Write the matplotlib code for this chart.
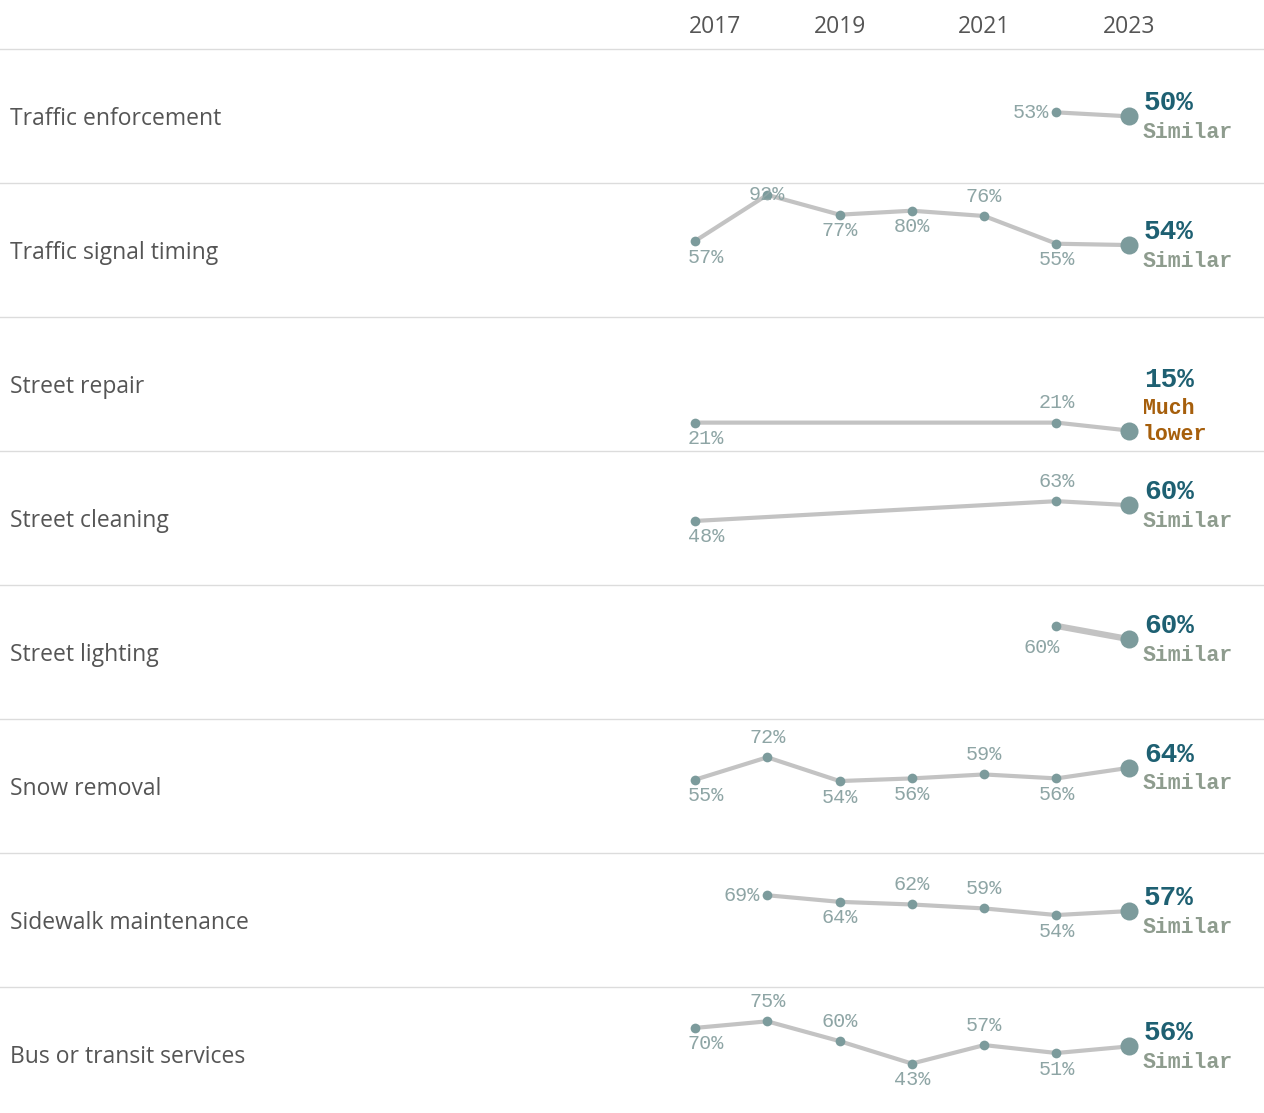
import numpy as np
import matplotlib.pyplot as plt
from matplotlib.lines import Line2D
from matplotlib.transforms import blended_transform_factory

years = [2017, 2018, 2019, 2020, 2021, 2022, 2023]
tick_years = [2017, 2019, 2021, 2023]

services = ["Traffic enforcement", "Traffic signal timing", "Street repair",
            "Street cleaning", "Street lighting", "Snow removal",
            "Sidewalk maintenance", "Bus or transit services"]

# None = not asked that year
traffic_enforcement = [None, None, None, None, None, 53, 50]
traffic_signal = [57, 92, 77, 80, 76, 55, 54]
street_repair = [21, None, None, None, None, 21, 15]
street_cleaning = [48, None, None, None, None, 63, 60]
street_lighting = [None, None, None, None, None, 70, 60]
snow_removal = [55, 72, 54, 56, 59, 56, 64]
sidewalk = [None, 69, 64, 62, 59, 54, 57]
bus_transit = [70, 75, 60, 43, 57, 51, 56]

series = [traffic_enforcement, traffic_signal, street_repair, street_cleaning,
          street_lighting, snow_removal, sidewalk, bus_transit]

# text shown next to each point (lighting 2022 is labelled 60% in the source)
point_labels = [
    [None, None, None, None, None, "53%", None],
    ["57%", "92%", "77%", "80%", "76%", "55%", None],
    ["21%", None, None, None, None, "21%", None],
    ["48%", None, None, None, None, "63%", None],
    [None, None, None, None, None, "60%", None],
    ["55%", "72%", "54%", "56%", "59%", "56%", None],
    [None, "69%", "64%", "62%", "59%", "54%", None],
    ["70%", "75%", "60%", "43%", "57%", "51%", None],
]
# a=above b=below l=left c=on point g=below-left
label_pos = [
    "-----l-",
    "bcbbab-",
    "b----a-",
    "b----a-",
    "-----g-",
    "babbab-",
    "-lbaab-",
    "baabab-",
]

status = ["Similar", "Similar", "Much\nlower", "Similar", "Similar",
          "Similar", "Similar", "Similar"]
status_col = ["#8e9c8e", "#8e9c8e", "#a65f0c", "#8e9c8e", "#8e9c8e",
              "#8e9c8e", "#8e9c8e", "#8e9c8e"]

W, H = 1264, 1113
ROW_TOP0, ROW_H = 49, 134
AX_L = 687

DOT = "#7c9b9c"
LINE = "#c3c3c3"
LAB = "#8ea5a5"
BIG = "#1e6072"
GREY_TXT = "#555555"
MONO = "Liberation Mono"

fig = plt.figure(figsize=(W / 100, H / 100), dpi=100)
fig.patch.set_facecolor("white")

def px(v):
    return v * 0.72  # pixels -> points at dpi 100

axes = []
for i, name in enumerate(services):
    top = ROW_TOP0 + ROW_H * i
    ax = fig.add_axes([AX_L / W, 1 - (top + ROW_H) / H, 1 - AX_L / W, ROW_H / H])
    ax.set_xlim(2016.89, 2024.87)
    ax.set_ylim(-0.5, 101)
    ax.axis("off")
    axes.append(ax)

    vals = series[i]
    xs = [y for y, v in zip(years, vals) if v is not None]
    ys = [v for v in vals if v is not None]
    lw = 4.5 if name == "Street lighting" else 3
    ax.plot(xs, ys, color=LINE, lw=lw, solid_capstyle="butt", zorder=1)
    ax.plot(xs[:-1], ys[:-1], "o", color=DOT, ms=7, mew=0, zorder=2)
    ax.plot(xs[-1], ys[-1], "o", color=DOT, ms=13, mew=0, zorder=2)

    for j, (yr, v) in enumerate(zip(years, vals)):
        lab = point_labels[i][j]
        if lab is None:
            continue
        p = label_pos[i][j]
        ha, dx, dy = "center", 0, 0
        if p == "a":
            dy = 20
        elif p == "b":
            dy = -16
        elif p == "l":
            ha, dx = "right", -7
        elif p == "g":
            dx, dy = -15, -22
        if yr == years[0] and p in "ab":
            ha, dx = "left", -7
        ax.annotate(lab, (yr, v), xytext=(px(dx), px(dy)), textcoords="offset points",
                    ha=ha, va="center", fontsize=14.5, color=LAB, family=MONO,
                    annotation_clip=False)

    # latest value and comparison
    last_x, last_v = years[-1], vals[-1]
    lines = status[i].split("\n")
    shift = 0 if len(lines) == 1 else 38
    ax.annotate(f"{last_v}%", (last_x, last_v), xytext=(px(15), px(13 + shift)),
                textcoords="offset points", ha="left", va="center", fontsize=20,
                fontweight="bold", color=BIG, family=MONO, annotation_clip=False)
    for k, s in enumerate(lines):
        ax.annotate(s, (last_x, last_v), xytext=(px(14), px(-16 + shift - 26 * k)),
                    textcoords="offset points", ha="left", va="center",
                    fontsize=15.5, fontweight="bold", color=status_col[i], family=MONO,
                    annotation_clip=False)

    fig.text(10 / W, 1 - (top + 70) / H, name, ha="left", va="center",
             fontsize=16.5, color=GREY_TXT, family="Open Sans")

# separators
for i in range(len(services)):
    y = 1 - (ROW_TOP0 + ROW_H * i) / H
    fig.add_artist(Line2D([0, 1], [y, y], transform=fig.transFigure,
                          color="#dcdcdc", lw=1))

# year header
tr = blended_transform_factory(axes[0].transData, fig.transFigure)
for yr in tick_years:
    if yr == years[0]:
        fig.text((AX_L + 2) / W, 1 - 27 / H, str(yr), ha="left", va="center",
                 fontsize=16.5, color=GREY_TXT, family="Open Sans")
    else:
        fig.text(yr, 1 - 27 / H, str(yr), ha="center", va="center", transform=tr,
                 fontsize=16.5, color=GREY_TXT, family="Open Sans")

fig.savefig("out.png", dpi=100, facecolor="white")
